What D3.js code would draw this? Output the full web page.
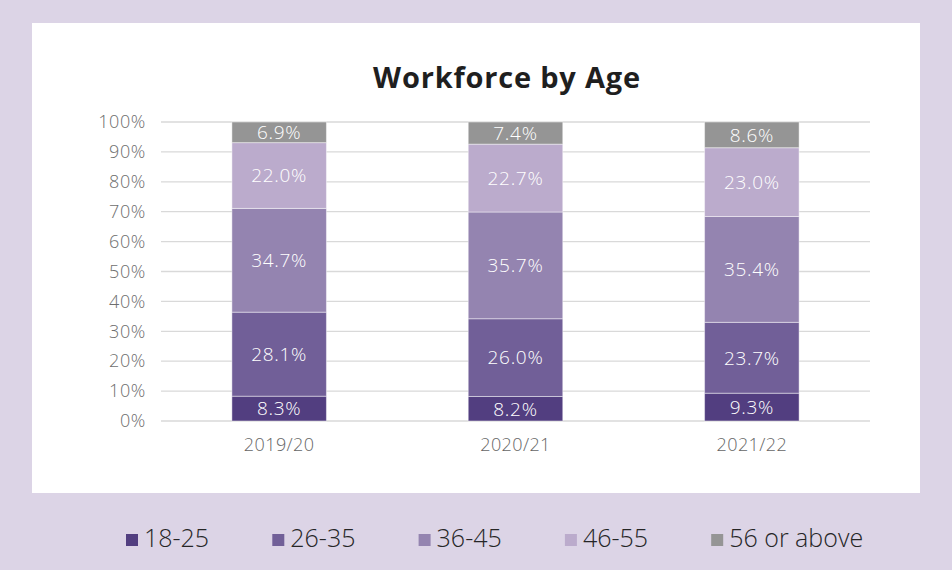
<!DOCTYPE html>
<html><head><meta charset="utf-8">
<script src="https://cdn.jsdelivr.net/npm/d3@7"></script>
<style>
html,body{margin:0;padding:0;background:#DCD4E6;}
svg{display:block;font-family:"Open Sans",sans-serif;}
</style></head>
<body>
<svg id="c" width="952" height="570"></svg>
<script>
const years = ["2019/20","2020/21","2021/22"];
const groups = ["18-25","26-35","36-45","46-55","56 or above"];
const v1825 = [8.3, 8.2, 9.3];
const v2635 = [28.1, 26.0, 23.7];
const v3645 = [34.7, 35.7, 35.4];
const v4655 = [22.0, 22.7, 23.0];
const v56 = [6.9, 7.4, 8.6];
const yTicks = [0,10,20,30,40,50,60,70,80,90,100];
const colors = ["#523E80","#715F98","#9484B0","#BBABCC","#959595"];
const title = "Workforce by Age";

const series = [v1825, v2635, v3645, v4655, v56];
const table = years.map((y,i)=>{const o={year:y}; groups.forEach((g,j)=>o[g]=series[j][i]); return o;});

const svg = d3.select("#c");
svg.append("rect").attr("x",0).attr("y",0).attr("width",952).attr("height",570).attr("fill","#DCD4E6");
svg.append("rect").attr("x",32).attr("y",23).attr("width",888).attr("height",470).attr("fill","#fff");

svg.append("text").attr("x",507).attr("y",88).attr("text-anchor","middle")
  .attr("font-size",29).attr("font-weight",700).attr("letter-spacing","0.8px").attr("fill","#1f1f1f").text(title);

const x = d3.scaleBand().domain(years).range([161,870]).paddingInner(0.6).paddingOuter(0.3);
const y = d3.scaleLinear().domain([0,100]).range([421,122]);

const grid = svg.append("g");
grid.selectAll("line").data(yTicks).join("line")
  .attr("x1",161).attr("x2",870).attr("y1",d=>y(d)).attr("y2",d=>y(d))
  .attr("stroke","#d9d9d9").attr("stroke-width",1.3);

const yAxis = svg.append("g").attr("transform","translate(149,0)")
  .call(d3.axisLeft(y).tickValues(yTicks).tickSize(0).tickFormat(d=>d+"%"));
yAxis.select(".domain").remove();
yAxis.selectAll("text").attr("font-size",18).attr("font-weight",300).attr("fill","#6e6e6e").attr("font-family","Open Sans").attr("letter-spacing","0.6px").attr("dx",0);

const xAxis = svg.append("g").attr("transform","translate(0,435)")
  .call(d3.axisBottom(x).tickSize(0));
xAxis.select(".domain").remove();
xAxis.selectAll("text").attr("font-size",18).attr("font-weight",300).attr("fill","#666").attr("font-family","Open Sans").attr("letter-spacing","0.4px");

const stack = d3.stack().keys(groups)(table);
const layers = svg.append("g").selectAll("g").data(stack).join("g").attr("fill",(d,i)=>colors[i]);
layers.selectAll("rect").data(d=>d).join("rect")
  .attr("x",d=>x(d.data.year)).attr("width",x.bandwidth())
  .attr("y",d=>y(d[1])).attr("height",d=>y(d[0])-y(d[1]))
  .attr("stroke","rgba(255,255,255,0.45)").attr("stroke-width",1);

const labels = svg.append("g");
stack.forEach((s,i)=>{
  labels.selectAll(null).data(s).join("text")
    .attr("x",d=>x(d.data.year)+x.bandwidth()/2)
    .attr("y",d=>(y(d[0])+y(d[1]))/2)
    .attr("dy","0.36em").attr("text-anchor","middle")
    .attr("font-size",19).attr("font-weight",300).attr("fill","#fff").attr("letter-spacing","0.7px")
    .text(d=>(d[1]-d[0]).toFixed(1)+"%");
});

const leg = svg.append("g");
groups.forEach((g,i)=>{
  const lx = 126 + i*146.3;
  leg.append("rect").attr("x",lx).attr("y",534).attr("width",12).attr("height",12).attr("fill",colors[i]);
  leg.append("text").attr("x",lx+18).attr("y",547).attr("font-size",25).attr("font-weight",300).attr("fill","#262626").text(g);
});
</script>
</body></html>
